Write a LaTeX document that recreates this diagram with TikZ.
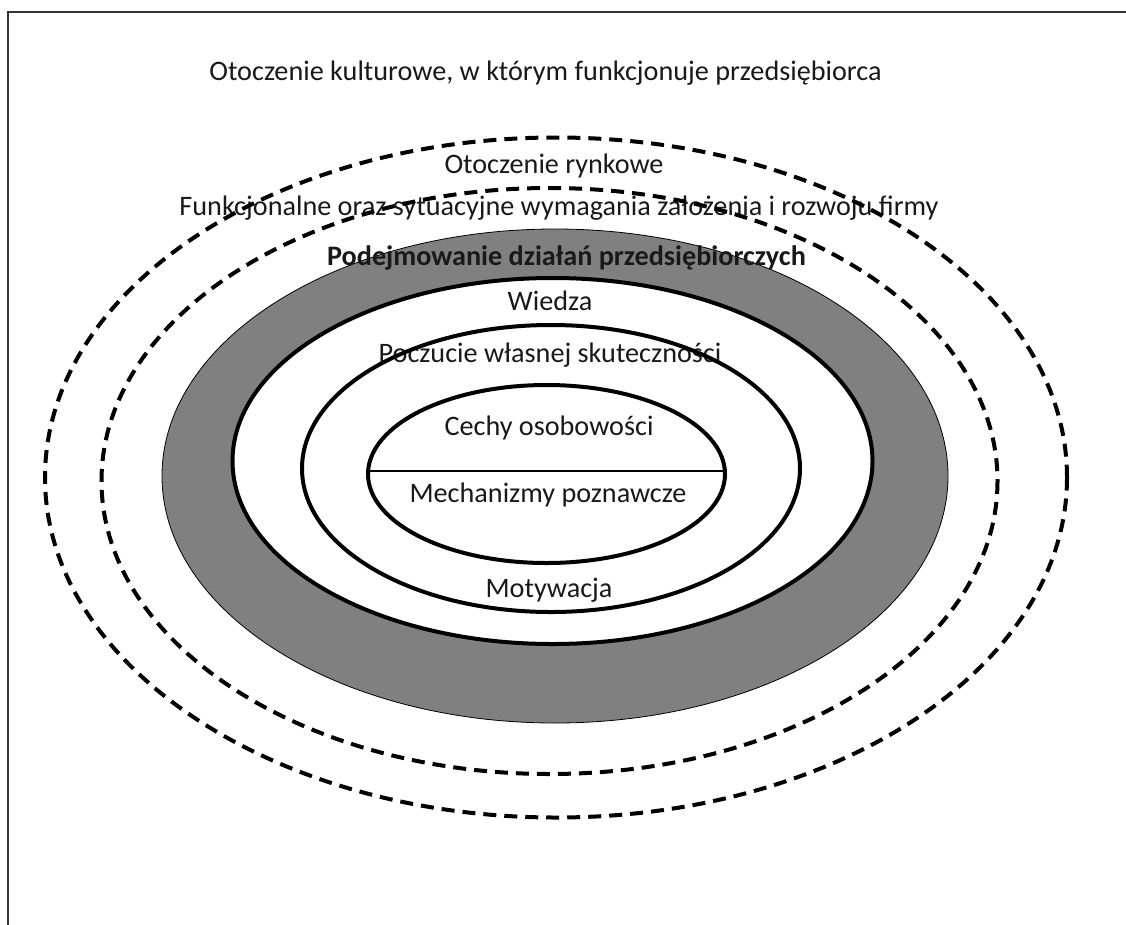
\documentclass[tikz,border=0pt]{standalone}
\usepackage{fontspec}
\setmainfont{Carlito}
\begin{document}
\begin{tikzpicture}[x=1pt,y=-1pt,
  lbl/.style={font=\fontsize{28.2}{32}\selectfont, inner sep=0pt, anchor=base, text=black!90},
  dashell/.style={line width=4pt, dash pattern=on 13pt off 8pt},
  thickell/.style={line width=4pt},
  frameline/.style={line width=1.5pt, draw=black!80}]
\useasboundingbox (0,0) rectangle (1126,924);
\clip (0,0) rectangle (1126,924);
\fill[white] (0,0) rectangle (1126,924);
% frame (cut at right and bottom)
\coordinate (fbl) at (8,940);
\coordinate (ftl) at (8,12);
\coordinate (ftr) at (1140,12);
\draw[frameline] (fbl) -- (ftl) -- (ftr);
% gray band
\fill[fill=black!50, draw=black, line width=0.8pt] (555,476) ellipse [x radius=393, y radius=247];
\fill[white] (552.5,461) ellipse [x radius=320, y radius=183];
% texts
\node[lbl] (kult) at (545.5,80) {Otoczenie kulturowe, w którym funkcjonuje przedsiębiorca};
\node[lbl] (rynek) at (554,173) {Otoczenie rynkowe};
\node[lbl] (funk) at (559,215) {Funkcjonalne oraz sytuacyjne wymagania założenia i rozwoju firmy};
\node[lbl, font=\fontsize{28.2}{32}\selectfont\bfseries] (podej) at (566.5,265) {Podejmowanie działań przedsiębiorczych};
\node[lbl] (wiedza) at (550,310) {Wiedza};
\node[lbl] (poczucie) at (550,362) {Poczucie własnej skuteczności};
\node[lbl] (cechy) at (549,435) {Cechy osobowości};
\node[lbl] (mech) at (548,502) {Mechanizmy poznawcze};
\node[lbl] (motyw) at (549,597) {Motywacja};
% solid ellipses
\draw[thickell] (552.5,461) ellipse [x radius=320, y radius=183];
\draw[thickell] (551,468.5) ellipse [x radius=249, y radius=143.5];
\draw[thickell] (546.5,474) ellipse [x radius=178.5, y radius=89];
\coordinate (divl) at (368.5,471);
\coordinate (divr) at (724.5,471);
\draw[line width=1.5pt] (divl) -- (divr);
% dashed ellipses
\draw[dashell] (556,477.5) ellipse [x radius=511, y radius=340];
\draw[dashell] (549.5,481) ellipse [x radius=448, y radius=293];
\end{tikzpicture}
\end{document}
